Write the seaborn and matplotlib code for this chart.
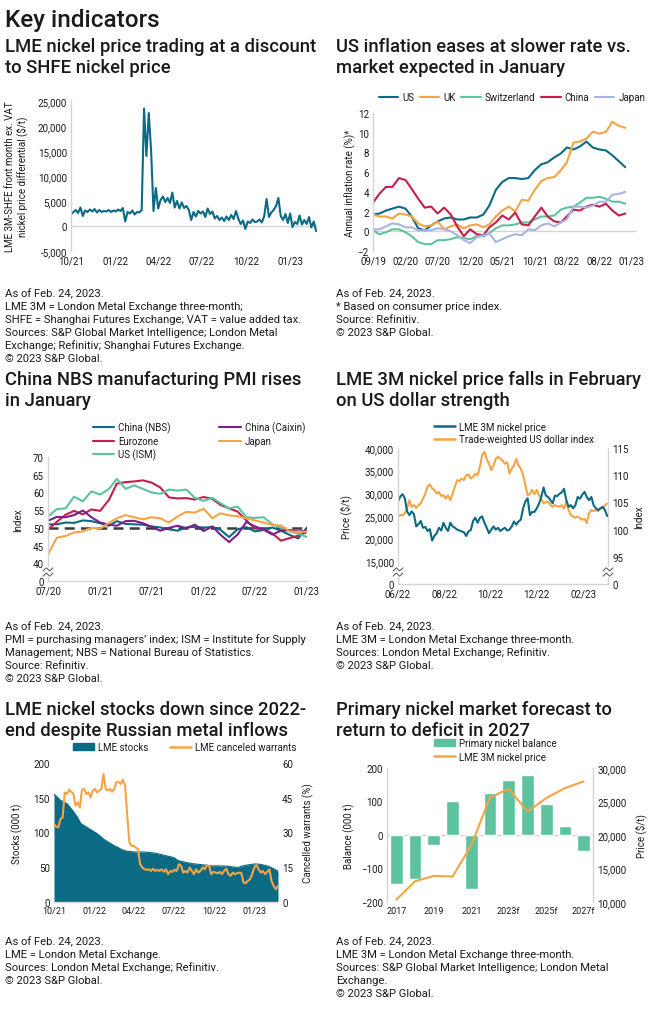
import numpy as np
import pandas as pd
import matplotlib.pyplot as plt
from matplotlib.patches import Patch, Rectangle
from matplotlib.lines import Line2D
import seaborn as sns

# ---- data -------------------------------------------------------------
# LME 3M - SHFE differential ($/t), Oct 2021 - Feb 2023
diff_vals = [2300, 2800, 3200, 2600, 3700, 2000, 3100, 2800, 3300, 2900,
             3400, 2700, 3200, 2800, 3000, 2900, 3200, 2800, 3100, 2900,
             3300, 3000, 3600, 900, 2800, 2500, 3100, 2300, 2800, 2700,
             3200, 23500, 14000, 22600, 15000, 3000, 7600, 3500, 5200, 5900,
             4800, 5600, 4600, 6700, 3700, 5000, 3500, 4700, 3600, 4000,
             3200, 1200, 2800, 1900, 3000, 2500, 2900, 1800, 3500, 2400,
             2900, 1500, 2000, 1200, 1700, 1000, 1900, 1200, 2200, 1400,
             3000, 1500, 400, 1100, -600, 900, 600, 1300, 800, 900,
             1300, 700, 2000, 5400, 1800, 2700, 3200, 4000, 5600, 2000,
             1200, 2400, 600, 2500, -200, 800, 400, 2100, 300, 1200,
             400, 1800, -300, 900, -1000]
diff_ticks = ['10/21', '01/22', '04/22', '07/22', '10/22', '01/23']

# annual inflation (%), Sep 2019 - Dec 2022
infl_us = [1.7, 1.8, 2.1, 2.3, 2.5, 2.3, 1.5, 0.3, 0.1, 0.6, 1.0, 1.3, 1.4, 1.2, 1.2, 1.4, 1.4, 1.7, 2.6, 4.2,
           5.0, 5.4, 5.4, 5.3, 5.4, 6.2, 6.8, 7.0, 7.5, 7.9, 8.5, 8.3, 8.6, 9.1, 8.5, 8.3, 8.2, 7.7, 7.1, 6.5]
infl_uk = [1.7, 1.5, 1.5, 1.3, 1.8, 1.7, 1.5, 0.8, 0.5, 0.6, 1.0, 0.2, 0.5, 0.7, 0.3, 0.6, 0.7, 0.4, 0.7, 1.5,
           2.1, 2.5, 2.0, 3.2, 3.1, 4.2, 5.1, 5.4, 5.5, 6.2, 7.0, 9.0, 9.1, 9.4, 10.1, 9.9, 10.1, 11.1, 10.7, 10.5]
infl_ch = [0.1, -0.3, -0.1, 0.2, 0.2, -0.1, -0.5, -1.1, -1.3, -1.3, -0.9, -0.9, -0.8, -0.6, -0.7, -0.8, -0.5, -0.5, -0.2, 0.3,
           0.6, 0.6, 0.7, 0.9, 0.9, 1.2, 1.5, 1.5, 1.6, 2.2, 2.4, 2.5, 2.9, 3.4, 3.4, 3.5, 3.3, 3.0, 3.0, 2.8]
infl_cn = [2.9, 3.8, 4.5, 4.5, 5.4, 5.2, 4.3, 3.3, 2.4, 2.5, 1.8, 2.4, 1.7, 0.5, -0.5, 0.2, -0.3, -0.4, 0.4, 0.9,
           1.6, 1.2, 1.9, 0.7, 0.6, 1.5, 2.4, 1.5, 1.0, 0.9, 1.5, 2.2, 2.1, 2.5, 2.7, 2.5, 2.8, 2.1, 1.6, 1.8]
infl_jp = [0.2, 0.2, 0.5, 0.8, 0.7, 0.4, 0.4, 0.1, 0.1, 0.1, 0.3, 0.2, 0.0, -0.4, -0.9, -1.2, -0.6, -0.4, -0.2, -1.1,
           -0.8, -0.5, -0.3, -0.4, 0.2, 0.1, 0.6, 0.8, 0.5, 0.9, 1.2, 2.5, 2.5, 2.4, 2.6, 3.0, 3.0, 3.7, 3.8, 4.0]
infl_ticks = ['09/19', '02/20', '07/20', '12/20', '05/21', '10/21', '03/22', '08/22', '01/23']

# manufacturing PMI, Jul 2020 - Jan 2023
pmi_nbs = [51.0, 51.0, 51.5, 51.4, 52.1, 51.9, 51.3, 50.6, 51.9, 51.1, 51.0, 50.9, 50.4, 50.1, 49.6, 49.2,
           50.1, 50.3, 50.1, 50.2, 49.5, 47.4, 49.6, 50.2, 49.0, 49.4, 50.1, 49.2, 48.0, 47.0, 50.1]
pmi_caixin = [52.0, 53.1, 53.0, 53.6, 54.9, 53.0, 51.5, 50.9, 50.6, 51.9, 52.0, 51.3, 50.3, 49.2, 50.0, 50.6,
              49.9, 50.9, 49.1, 50.4, 48.1, 46.0, 48.1, 51.7, 50.4, 49.5, 48.1, 49.2, 49.4, 49.0, 49.2]
pmi_euro = [49.5, 51.7, 53.7, 54.8, 53.8, 55.2, 54.8, 57.9, 62.5, 62.9, 63.1, 63.4, 62.8, 61.4, 58.6, 58.3,
            58.4, 58.0, 58.7, 58.2, 56.5, 55.5, 54.6, 52.1, 49.8, 49.6, 48.4, 46.4, 47.1, 47.8, 48.8]
pmi_japan = [42.5, 47.2, 47.7, 48.7, 49.0, 50.0, 49.8, 51.4, 52.7, 53.6, 53.0, 52.4, 53.0, 52.7, 51.5, 53.2,
             54.5, 54.3, 55.4, 52.7, 54.1, 53.5, 53.3, 52.7, 52.1, 51.5, 50.8, 50.7, 49.0, 48.9, 48.9]
pmi_us = [53.2, 55.3, 55.5, 58.8, 57.5, 60.3, 59.4, 61.0, 63.8, 61.0, 62.0, 61.0, 60.0, 59.6, 60.8, 60.5,
          60.8, 58.5, 57.6, 58.5, 57.0, 55.5, 56.0, 53.0, 52.8, 53.0, 51.0, 50.0, 49.0, 48.4, 47.4]
pmi_ticks = ['07/20', '01/21', '07/21', '01/22', '07/22', '01/23']

# LME 3M nickel ($/t) and trade-weighted USD index, Jun 2022 - Feb 2023
nickel_px = [28200, 29300, 29800, 28900, 26000, 25200, 26000, 25400, 22700, 23200,
             23900, 22400, 22600, 21700, 22100, 19600, 20600, 21200, 22400, 21800,
             23500, 22400, 21700, 23500, 22700, 22400, 22000, 21800, 21600, 21400,
             20600, 21600, 21900, 23900, 24600, 23500, 24600, 24900, 23500, 22400,
             21200, 22000, 22700, 22000, 22400, 21700, 22100, 22400, 21800, 22000,
             22700, 23800, 23100, 23800, 24200, 26700, 28200, 28900, 25200, 25900,
             25900, 26700, 27700, 29200, 31300, 29500, 29200, 28500, 27800, 29500,
             29400, 29900, 30200, 31000, 28500, 27000, 27400, 26700, 27400, 29200,
             28800, 29700, 30300, 29200, 28500, 29200, 27400, 26700, 26300, 26700,
             27000, 26300, 25000]
usd_index = [102.4, 102.7, 102.6, 103.0, 103.9, 105.4, 104.2, 104.5, 104.0, 104.5,
             104.8, 105.7, 106.6, 107.9, 108.3, 107.6, 107.3, 106.6, 106.9, 106.2,
             106.3, 105.7, 106.3, 105.4, 106.6, 107.9, 109.1, 108.9, 109.4, 109.1,
             110.0, 110.1, 109.4, 109.7, 110.3, 110.0, 111.5, 113.7, 114.3, 113.0,
             112.1, 110.9, 111.8, 113.0, 113.4, 113.0, 112.7, 112.1, 112.4, 110.3,
             111.2, 111.8, 113.0, 111.8, 111.2, 110.0, 108.2, 106.3, 106.6, 107.3,
             106.5, 107.3, 106.3, 105.7, 104.8, 105.1, 105.1, 104.5, 104.2, 104.5,
             104.3, 104.2, 104.5, 103.9, 105.1, 103.6, 102.7, 102.4, 102.2, 102.4,
             102.1, 101.8, 102.0, 101.2, 103.0, 103.6, 103.4, 103.6, 103.4, 103.9,
             103.9, 104.5, 104.8]
nickel_ticks = ['06/22', '08/22', '10/22', '12/22', '02/23']

# LME stocks (000 t) and canceled warrants (%), Oct 2021 - Feb 2023
lme_stocks = [155, 151, 146, 144, 141, 135, 129, 122, 113, 110,
              107, 104, 101, 98, 94, 90, 87, 84, 81, 79,
              76, 74, 73, 72.5, 72, 72, 72, 72, 71.5, 71,
              70.5, 69.5, 68.5, 67, 66, 65, 63.5, 60, 58.5, 57.5,
              56.5, 55.5, 54.8, 54.3, 53.8, 53.2, 52.8, 52, 52, 52,
              51.8, 51.8, 51.5, 50.8, 50.2, 49.3, 51.5, 52.5, 53.5, 54,
              54.8, 54.5, 54, 52.8, 51.5, 49.5, 47, 44.5]
canc_warrants = [33.6, 32.6, 32.2, 35.8, 36.5, 47.3, 46.6, 48.5, 47.6, 46.6,
                 41.6, 43.0, 40.8, 48.5, 48.8, 46.6, 47.3, 45.2, 48.1, 48.8,
                 47.3, 48.1, 48.8, 55.3, 48.8, 48.1, 48.8, 47.6, 48.8, 51.9,
                 51.7, 50.9, 52.8, 50.2, 37.2, 25.7, 24.2, 24.2, 23.5, 22.8,
                 16.3, 14.9, 14.1, 13.9, 14.1, 13.4, 14.4, 13.4, 13.9, 13.4,
                 14.1, 13.0, 14.1, 12.0, 13.4, 13.0, 13.9, 13.4, 16.3, 15.6,
                 12.7, 13.4, 12.7, 14.9, 13.4, 12.0, 14.1, 12.7, 13.4, 14.9,
                 14.1, 15.9, 15.6, 12.0, 13.0, 12.7, 12.4, 13.0, 12.0, 13.4,
                 14.4, 12.0, 11.3, 12.7, 12.0, 12.4, 12.7, 12.4, 8.4, 8.1,
                 9.1, 9.8, 12.0, 14.9, 15.9, 14.1, 12.7, 13.4, 12.0, 13.0,
                 14.1, 9.1, 6.9, 5.5, 6.9]

# primary nickel balance (000 t) and LME 3M price ($/t)
bal_years = ['2017', '2018', '2019', '2020', '2021', '2022', '2023f', '2024f', '2025f', '2026f', '2027f']
bal_values = [-145, -130, -30, 101, -162, 124, 165, 180, 94, 28, -47]
bal_price = [10350, 13100, 13900, 13800, 18450, 25600, 26900, 23500, 25500, 27000, 28000]

# ---- style ------------------------------------------------------------
TEAL = '#0B6A84'
ORANGE = '#F5A445'
GREEN = '#5CC39E'
CRIMSON = '#C41F4B'
LAVENDER = '#A9B4E2'
PURPLE = '#7B1F8C'
SPINE = '#D4D4D4'
INK = '#1A1A1A'

sns.set_theme(style='white')
plt.rcParams['font.family'] = ['Roboto', 'DejaVu Sans']
plt.rcParams['text.color'] = INK
plt.rcParams['axes.labelcolor'] = INK
plt.rcParams['xtick.color'] = INK
plt.rcParams['ytick.color'] = INK

W, H = 660, 1012
fig = plt.figure(figsize=(W / 100, H / 100), dpi=100)


def add_ax(l, t, r, b):
    return fig.add_axes([l / W, 1 - b / H, (r - l) / W, (b - t) / H])


def ftext(x, y, s, **kw):
    fig.text(x / W, 1 - y / H, s, **kw)


def style_ax(ax, left=True, right=False, bottom=False, size=7):
    for side, on in (('left', left), ('right', right), ('bottom', bottom), ('top', False)):
        ax.spines[side].set_visible(on)
        ax.spines[side].set_color(SPINE)
        ax.spines[side].set_linewidth(1)
    ax.tick_params(length=0, labelsize=size, pad=3)
    ax.grid(False)
    ax.set_xlabel('')


def ylabel_px(ax, text, x_px, left_px, width_px, **kw):
    # left-side label: x_px is the right edge, right-side label: x_px is the left edge
    ax.set_ylabel(text, fontsize=7, **kw)
    ax.yaxis.set_label_coords((x_px - left_px) / width_px, 0.5)


def axis_break(ax, xfrac, yfrac):
    bb = ax.get_position()
    w = 5 / W / bb.width
    h = 4 / H / bb.height
    ax.add_patch(Rectangle((xfrac - w, yfrac - h * 1.3), 2 * w, 2.6 * h, transform=ax.transAxes,
                           facecolor='white', edgecolor='none', clip_on=False, zorder=5))
    for off in (-h * 0.65, h * 0.65):
        ax.plot([xfrac - w, xfrac - w / 3, xfrac + w / 3, xfrac + w],
                [yfrac + off - h * 0.4, yfrac + off + h * 0.4, yfrac + off - h * 0.4, yfrac + off + h * 0.4],
                transform=ax.transAxes, color='#555555', lw=0.7, clip_on=False, zorder=6)


def comma(v):
    return f'{v:,.0f}'


def month_ticks(labels):
    return pd.to_datetime(['20' + s[3:] + '-' + s[:2] + '-01' for s in labels])


# ---- headings ---------------------------------------------------------
ftext(5, 20, 'Key indicators', fontsize=17.5, fontweight='medium', va='center')

titles = [
    (5, 47, 'LME nickel price trading at a discount', 'to SHFE nickel price'),
    (336, 47, 'US inflation eases at slower rate vs.', 'market expected in January'),
    (5, 380, 'China NBS manufacturing PMI rises', 'in January'),
    (336, 380, 'LME 3M nickel price falls in February', 'on US dollar strength'),
    (5, 710, 'LME nickel stocks down since 2022-', 'end despite Russian metal inflows'),
    (336, 710, 'Primary nickel market forecast to', 'return to deficit in 2027'),
]
for x, y, l1, l2 in titles:
    ftext(x, y, l1, fontsize=13.3, fontweight='medium', va='center')
    ftext(x, y + 21, l2, fontsize=13.3, fontweight='medium', va='center')

notes = [
    (5, 294, ['As of Feb. 24, 2023.', 'LME 3M = London Metal Exchange three-month;',
              'SHFE = Shanghai Futures Exchange; VAT = value added tax.',
              'Sources: S&P Global Market Intelligence; London Metal',
              'Exchange; Refinitiv; Shanghai Futures Exchange.', '\u00a9 2023 S&P Global.']),
    (336, 294, ['As of Feb. 24, 2023.', '* Based on consumer price index.', 'Source: Refinitiv.',
                '\u00a9 2023 S&P Global.']),
    (5, 627, ['As of Feb. 24, 2023.',
              'PMI = purchasing managers\u2019 index; ISM = Institute for Supply',
              'Management; NBS = National Bureau of Statistics.', 'Source: Refinitiv.',
              '\u00a9 2023 S&P Global.']),
    (336, 627, ['As of Feb. 24, 2023.', 'LME 3M = London Metal Exchange three-month.',
                'Sources: London Metal Exchange; Refinitiv.', '\u00a9 2023 S&P Global.']),
    (5, 942, ['As of Feb. 24, 2023.', 'LME = London Metal Exchange.',
              'Sources: London Metal Exchange; Refinitiv.', '\u00a9 2023 S&P Global.']),
    (336, 942, ['As of Feb. 24, 2023.', 'LME 3M = London Metal Exchange three-month.',
                'Sources: S&P Global Market Intelligence; London Metal', 'Exchange.',
                '\u00a9 2023 S&P Global.']),
]
for x, y, lines in notes:
    for i, s in enumerate(lines):
        ftext(x, y + i * 13, s, fontsize=8.1, va='center')

# ---- 1: LME - SHFE differential ----------------------------------------
ax1 = add_ax(71, 102, 318, 252)
d1 = pd.DataFrame({'date': pd.date_range('2021-10-01', '2023-02-24', periods=len(diff_vals)),
                   'diff': diff_vals})
sns.lineplot(data=d1, x='date', y='diff', ax=ax1, color=TEAL, lw=1.5)
ax1.axhline(0, color=SPINE, lw=1, zorder=0)
ax1.set_ylim(-5000, 25000)
ax1.set_yticks(range(-5000, 25001, 5000), [comma(v) for v in range(-5000, 25001, 5000)])
ax1.set_xlim(pd.Timestamp('2021-10-01'), pd.Timestamp('2023-02-28'))
ax1.set_xticks(month_ticks(diff_ticks), diff_ticks)
style_ax(ax1)
ylabel_px(ax1, 'LME 3M-SHFE front month ex. VAT\nnickel price differential ($/t)', 28, 71, 247,
          linespacing=1.1)

# ---- 2: inflation ------------------------------------------------------
ax2 = add_ax(373, 114, 637, 252)
months2 = pd.date_range('2019-09-01', periods=len(infl_us), freq='MS')
d2 = pd.DataFrame({'date': months2, 'US': infl_us, 'UK': infl_uk, 'Switzerland': infl_ch,
                   'China': infl_cn, 'Japan': infl_jp}).melt('date', var_name='country', value_name='rate')
sns.lineplot(data=d2, x='date', y='rate', hue='country', ax=ax2, lw=1.5,
             palette={'US': TEAL, 'UK': ORANGE, 'Switzerland': GREEN, 'China': CRIMSON, 'Japan': LAVENDER})
ax2.axhline(0, color=SPINE, lw=1, zorder=0)
ax2.set_ylim(-2, 12)
ax2.set_yticks(range(-2, 13, 2))
ax2.set_xlim(pd.Timestamp('2019-09-01'), pd.Timestamp('2023-01-25'))
ax2.set_xticks(month_ticks(infl_ticks), infl_ticks)
style_ax(ax2)
ylabel_px(ax2, 'Annual inflation rate (%)*', 356, 373, 264)
sns.move_legend(ax2, 'center', bbox_to_anchor=((512 - 373) / 264, (252 - 98) / 138), ncol=5, frameon=False,
                title=None, fontsize=7, handlelength=2.0, handletextpad=0.4, columnspacing=0.6)

# ---- 3: PMI ------------------------------------------------------------
ax3 = add_ax(48, 458, 307, 582)
months3 = pd.date_range('2020-07-01', periods=len(pmi_nbs), freq='MS')
pmi_order = ['China (NBS)', 'Eurozone', 'US (ISM)', 'China (Caixin)', 'Japan']
d3 = pd.DataFrame({'date': months3, 'China (NBS)': pmi_nbs, 'Eurozone': pmi_euro, 'US (ISM)': pmi_us,
                   'China (Caixin)': pmi_caixin, 'Japan': pmi_japan}).melt('date', var_name='series',
                                                                             value_name='pmi')
ax3.axhline(50, color='#3A3A3A', lw=1.8, ls=(0, (4, 2.5)), zorder=1)
sns.lineplot(data=d3, x='date', y='pmi', hue='series', hue_order=pmi_order, ax=ax3, lw=1.5,
             palette={'China (NBS)': TEAL, 'Eurozone': CRIMSON, 'US (ISM)': GREEN,
                      'China (Caixin)': PURPLE, 'Japan': ORANGE}, zorder=2)
ax3.set_ylim(35, 70)
ax3.set_yticks(range(35, 71, 5), ['0'] + [str(v) for v in range(40, 71, 5)])
ax3.set_xlim(months3[0], months3[-1])
ax3.set_xticks(month_ticks(pmi_ticks), pmi_ticks)
style_ax(ax3, bottom=True)
ylabel_px(ax3, 'Index', 23, 48, 259)
sns.move_legend(ax3, 'center left', bbox_to_anchor=((84 - 48) / 259, (582 - 442) / 124), ncol=2,
                frameon=False, title=None, fontsize=7, handlelength=2.2, handletextpad=0.4,
                columnspacing=5.0, labelspacing=0.3)
axis_break(ax3, 0, (582 - 573) / 124)

# ---- 4: nickel price vs USD --------------------------------------------
ax4 = add_ax(398, 449, 608, 585)
ax4r = ax4.twinx()
d4a = pd.DataFrame({'date': pd.date_range('2022-06-01', '2023-03-05', periods=len(nickel_px)),
                    'price': nickel_px})
d4b = pd.DataFrame({'date': pd.date_range('2022-06-01', '2023-03-05', periods=len(usd_index)),
                    'index': usd_index})
sns.lineplot(data=d4a, x='date', y='price', ax=ax4, color=TEAL, lw=1.5)
sns.lineplot(data=d4b, x='date', y='index', ax=ax4r, color=ORANGE, lw=1.5)
ax4.set_zorder(ax4r.get_zorder() + 1)
ax4.patch.set_visible(False)
ax4.set_ylim(10000, 40000)
ax4.set_yticks(range(10000, 40001, 5000), ['0'] + [comma(v) for v in range(15000, 40001, 5000)])
ax4r.set_ylim(90, 115)
ax4r.set_yticks(range(90, 116, 5), ['0'] + [str(v) for v in range(95, 116, 5)])
ax4.set_xlim(pd.Timestamp('2022-06-01'), pd.Timestamp('2023-03-06'))
ax4.set_xticks(month_ticks(nickel_ticks), nickel_ticks)
style_ax(ax4, bottom=True)
style_ax(ax4r, left=False, right=True, bottom=False)
ylabel_px(ax4, 'Price ($/t)', 352, 398, 210)
ylabel_px(ax4r, 'Index', 634, 398, 210)
ax4.legend(handles=[Line2D([], [], color=TEAL, lw=1.8), Line2D([], [], color=ORANGE, lw=1.8)],
           labels=['LME 3M nickel price', 'Trade-weighted US dollar index'], loc='center left',
           bbox_to_anchor=((425 - 398) / 210, (585 - 434) / 136), frameon=False, fontsize=7,
           handlelength=2.2, handletextpad=0.4, labelspacing=0.3)
axis_break(ax4, 0, (585 - 573) / 136)
axis_break(ax4, 1, (585 - 573) / 136)

# ---- 5: LME stocks & canceled warrants ---------------------------------
ax5 = add_ax(54, 764, 278, 903)
ax5r = ax5.twinx()
d5a = pd.DataFrame({'date': pd.date_range('2021-10-01', '2023-02-24', periods=len(lme_stocks)),
                    'stocks': lme_stocks})
d5b = pd.DataFrame({'date': pd.date_range('2021-10-01', '2023-02-24', periods=len(canc_warrants)),
                    'warrants': canc_warrants})
ax5.fill_between(d5a['date'], 0, d5a['stocks'], color=TEAL, lw=0)
sns.lineplot(data=d5a, x='date', y='stocks', ax=ax5, color=TEAL, lw=0.8)
sns.lineplot(data=d5b, x='date', y='warrants', ax=ax5r, color=ORANGE, lw=1.5)
ax5.set_ylim(0, 200)
ax5.set_yticks(range(0, 201, 50))
ax5r.set_ylim(0, 60)
ax5r.set_yticks(range(0, 61, 15))
ax5.set_xlim(pd.Timestamp('2021-10-01'), pd.Timestamp('2023-02-24'))
ax5.set_xticks(month_ticks(diff_ticks), diff_ticks)
style_ax(ax5, left=False, bottom=True)
style_ax(ax5r, left=False, bottom=False)
ax5.tick_params(axis='x', labelsize=6.5)
ylabel_px(ax5, 'Stocks (000 t)', 23, 54, 224)
ylabel_px(ax5r, 'Cancelled warrants (%)', 302, 54, 224)
ax5r.legend(handles=[Patch(color=TEAL), Line2D([], [], color=ORANGE, lw=1.8)],
            labels=['LME stocks', 'LME canceled warrants'], loc='center left',
            bbox_to_anchor=((64 - 54) / 224, (903 - 748) / 139), ncol=2, frameon=False, fontsize=7,
            handlelength=2.2, handletextpad=0.4, columnspacing=2.2)

# ---- 6: primary nickel balance -----------------------------------------
ax6 = add_ax(387, 769, 593, 903)
d6 = pd.DataFrame({'year': bal_years, 'balance': bal_values, 'price': bal_price})
sns.barplot(data=d6, x='year', y='balance', ax=ax6, color=GREEN, width=0.68, saturation=1)
ax6.axhline(0, color=SPINE, lw=1, zorder=0.5)
ax6r = ax6.twinx()
sns.lineplot(x=np.arange(len(bal_years)), y=d6['price'], ax=ax6r, color=ORANGE, lw=1.5)
ax6.set_ylim(-200, 200)
ax6.set_yticks(range(-200, 201, 100))
ax6r.set_ylim(10000, 30000)
ax6r.set_yticks(range(10000, 30001, 5000), [comma(v) for v in range(10000, 30001, 5000)])
ax6.set_xlim(-0.5, len(bal_years) - 0.5)
ax6.set_xticks(range(0, len(bal_years), 2), bal_years[::2])
style_ax(ax6, bottom=False)
style_ax(ax6r, left=False, right=True)
ax6.tick_params(axis='x', labelsize=6.5)
ylabel_px(ax6, 'Balance (000 t)', 355, 387, 206)
ylabel_px(ax6r, 'Price ($/t)', 635, 387, 206)
ax6r.legend(handles=[Patch(color=GREEN), Line2D([], [], color=ORANGE, lw=1.8)],
            labels=['Primary nickel balance', 'LME 3M nickel price'], loc='center left',
            bbox_to_anchor=((425 - 387) / 206, (903 - 751) / 134), frameon=False, fontsize=7,
            handlelength=2.2, handletextpad=0.4, labelspacing=0.35)

fig.savefig('out.png', dpi=100)
